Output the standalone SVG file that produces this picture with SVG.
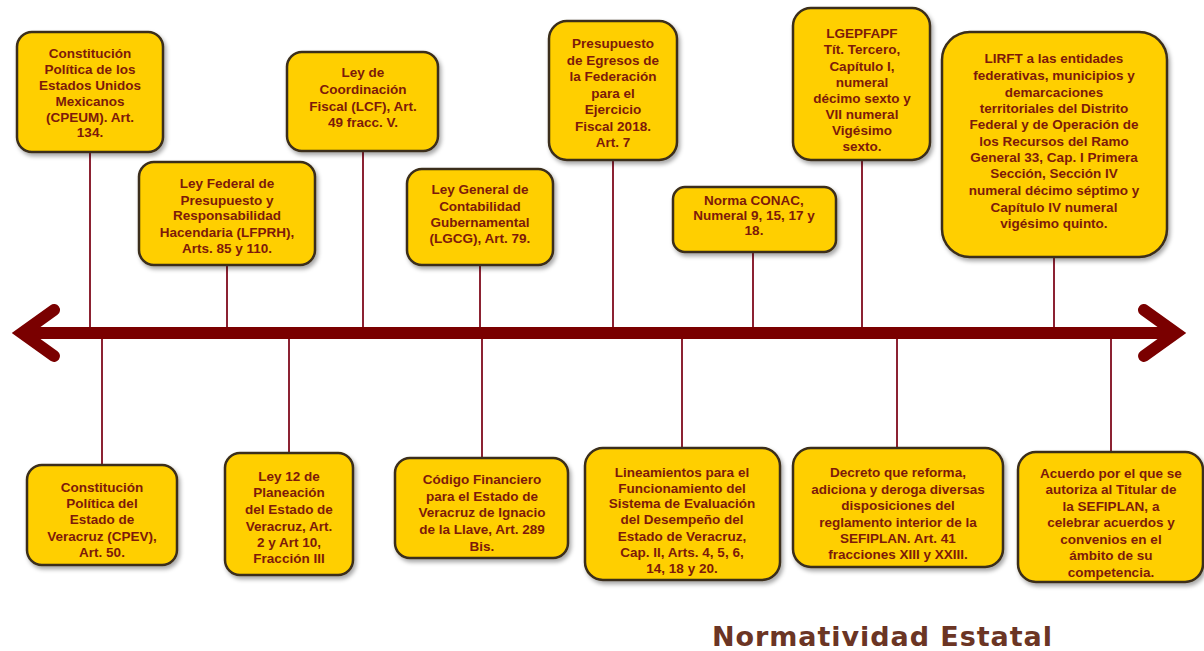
<svg xmlns="http://www.w3.org/2000/svg" width="1204" height="651" viewBox="0 0 1204 651">
<defs>
<filter id="sh" x="-10%" y="-10%" width="130%" height="130%">
<feDropShadow dx="2" dy="3" stdDeviation="2" flood-color="#000" flood-opacity="0.35"/>
</filter>
<style>
.box{fill:#FFCF00;stroke:#3B2E1A;stroke-width:2.5;filter:url(#sh)}
.t{font-family:"Liberation Sans",Arial,sans-serif;font-weight:bold;font-size:13.5px;fill:#7D1A0A;text-anchor:middle}
.conn{stroke:#8C2232;stroke-width:2;fill:none}
.axis{stroke:#7A0000;fill:none}
.title{font-family:"DejaVu Sans","Open Sans",sans-serif;font-weight:bold;font-size:27px;fill:#6B3524}
</style>
</defs>
<rect width="1204" height="651" fill="#fff"/>
<g id="connectors">
<line class="conn" x1="90" y1="152" x2="90" y2="333"/>
<line class="conn" x1="227" y1="265" x2="227" y2="333"/>
<line class="conn" x1="363" y1="151" x2="363" y2="333"/>
<line class="conn" x1="480" y1="265" x2="480" y2="333"/>
<line class="conn" x1="613" y1="160" x2="613" y2="333"/>
<line class="conn" x1="753" y1="252" x2="753" y2="333"/>
<line class="conn" x1="862" y1="160" x2="862" y2="333"/>
<line class="conn" x1="1054" y1="257" x2="1054" y2="333"/>
<line class="conn" x1="102" y1="333" x2="102" y2="465"/>
<line class="conn" x1="289" y1="333" x2="289" y2="453"/>
<line class="conn" x1="482" y1="333" x2="482" y2="458"/>
<line class="conn" x1="682" y1="333" x2="682" y2="448"/>
<line class="conn" x1="897" y1="333" x2="897" y2="448"/>
<line class="conn" x1="1111" y1="333" x2="1111" y2="452"/>
<path class="axis" d="M22 333 H1176" stroke-width="12"/>
<path class="axis" d="M54 310 L22 333 L54 356" stroke-width="12" stroke-linecap="round" stroke-linejoin="miter"/>
<path class="axis" d="M1144 310 L1176 333 L1144 356" stroke-width="12" stroke-linecap="round" stroke-linejoin="miter"/>
</g>
<g id="cpeum">
<rect class="box" x="17" y="32" width="146" height="120" rx="15"/>
<text class="t"><tspan x="90" y="58">Constitución</tspan><tspan x="90" y="74">Política de los</tspan><tspan x="90" y="90">Estados Unidos</tspan><tspan x="90" y="106">Mexicanos</tspan><tspan x="90" y="122">(CPEUM). Art.</tspan><tspan x="90" y="137">134.</tspan></text>
</g>
<g id="lfprh">
<rect class="box" x="139" y="162" width="176" height="103" rx="15"/>
<text class="t"><tspan x="227" y="188">Ley Federal de</tspan><tspan x="227" y="205">Presupuesto y</tspan><tspan x="227" y="220">Responsabilidad</tspan><tspan x="227" y="237">Hacendaria (LFPRH),</tspan><tspan x="227" y="253">Arts. 85 y 110.</tspan></text>
</g>
<g id="lcf">
<rect class="box" x="287" y="52" width="151" height="99" rx="15"/>
<text class="t"><tspan x="363" y="77">Ley de</tspan><tspan x="363" y="94">Coordinación</tspan><tspan x="363" y="111">Fiscal (LCF), Art.</tspan><tspan x="363" y="127">49 fracc. V.</tspan></text>
</g>
<g id="lgcg">
<rect class="box" x="407" y="169" width="146" height="96" rx="15"/>
<text class="t"><tspan x="480" y="194">Ley General de</tspan><tspan x="480" y="211">Contabilidad</tspan><tspan x="480" y="227">Gubernamental</tspan><tspan x="480" y="243">(LGCG), Art. 79.</tspan></text>
</g>
<g id="pef">
<rect class="box" x="549" y="21" width="128" height="139" rx="18"/>
<text class="t"><tspan x="613" y="48">Presupuesto</tspan><tspan x="613" y="65">de Egresos de</tspan><tspan x="613" y="81">la Federación</tspan><tspan x="613" y="98">para el</tspan><tspan x="613" y="114">Ejercicio</tspan><tspan x="613" y="131">Fiscal 2018.</tspan><tspan x="613" y="147">Art. 7</tspan></text>
</g>
<g id="conac">
<rect class="box" x="673" y="187" width="163" height="65" rx="12"/>
<text class="t"><tspan x="754" y="205">Norma CONAC,</tspan><tspan x="754" y="220">Numeral 9, 15, 17 y</tspan><tspan x="754" y="235">18.</tspan></text>
</g>
<g id="lgepfapf">
<rect class="box" x="793" y="8" width="137" height="152" rx="18"/>
<text class="t"><tspan x="862" y="38">LGEPFAPF</tspan><tspan x="862" y="54">Tít. Tercero,</tspan><tspan x="862" y="71">Capítulo I,</tspan><tspan x="862" y="87">numeral</tspan><tspan x="862" y="103">décimo sexto y</tspan><tspan x="862" y="119">VII numeral</tspan><tspan x="862" y="135">Vigésimo</tspan><tspan x="862" y="151">sexto.</tspan></text>
</g>
<g id="lirft">
<rect class="box" x="942" y="32" width="225" height="225" rx="28"/>
<text class="t"><tspan x="1054" y="63">LIRFT a las entidades</tspan><tspan x="1054" y="80">federativas, municipios y</tspan><tspan x="1054" y="97">demarcaciones</tspan><tspan x="1054" y="113">territoriales del Distrito</tspan><tspan x="1054" y="129">Federal y de Operación de</tspan><tspan x="1054" y="146">los Recursos del Ramo</tspan><tspan x="1054" y="162">General 33, Cap. I Primera</tspan><tspan x="1054" y="178">Sección, Sección IV</tspan><tspan x="1054" y="195">numeral décimo séptimo y</tspan><tspan x="1054" y="212">Capítulo IV numeral</tspan><tspan x="1054" y="228">vigésimo quinto.</tspan></text>
</g>
<g id="cpev">
<rect class="box" x="27" y="465" width="150" height="100" rx="15"/>
<text class="t"><tspan x="102" y="492">Constitución</tspan><tspan x="102" y="508">Política del</tspan><tspan x="102" y="524">Estado de</tspan><tspan x="102" y="541">Veracruz (CPEV),</tspan><tspan x="102" y="557">Art. 50.</tspan></text>
</g>
<g id="ley12">
<rect class="box" x="225" y="453" width="128" height="122" rx="15"/>
<text class="t"><tspan x="289" y="481">Ley 12 de</tspan><tspan x="289" y="497">Planeación</tspan><tspan x="289" y="514">del Estado de</tspan><tspan x="289" y="531">Veracruz, Art.</tspan><tspan x="289" y="547">2 y Art 10,</tspan><tspan x="289" y="563">Fracción III</tspan></text>
</g>
<g id="codigo">
<rect class="box" x="395" y="458" width="173" height="100" rx="15"/>
<text class="t"><tspan x="482" y="484">Código Financiero</tspan><tspan x="482" y="501">para el Estado de</tspan><tspan x="482" y="517">Veracruz de Ignacio</tspan><tspan x="482" y="534">de la Llave, Art. 289</tspan><tspan x="482" y="551">Bis.</tspan></text>
</g>
<g id="lineamientos">
<rect class="box" x="585" y="448" width="195" height="132" rx="18"/>
<text class="t"><tspan x="682" y="477">Lineamientos para el</tspan><tspan x="682" y="493">Funcionamiento del</tspan><tspan x="682" y="508">Sistema de Evaluación</tspan><tspan x="682" y="524">del Desempeño del</tspan><tspan x="682" y="541">Estado de Veracruz,</tspan><tspan x="682" y="557">Cap. II, Arts. 4, 5, 6,</tspan><tspan x="682" y="573">14, 18 y 20.</tspan></text>
</g>
<g id="decreto">
<rect class="box" x="793" y="448" width="210" height="119" rx="18"/>
<text class="t"><tspan x="898" y="477">Decreto que reforma,</tspan><tspan x="898" y="494">adiciona y deroga diversas</tspan><tspan x="898" y="510">disposiciones del</tspan><tspan x="898" y="527">reglamento interior de la</tspan><tspan x="898" y="543">SEFIPLAN. Art. 41</tspan><tspan x="898" y="559">fracciones XIII y XXIII.</tspan></text>
</g>
<g id="acuerdo">
<rect class="box" x="1018" y="452" width="185" height="130" rx="18"/>
<text class="t"><tspan x="1111" y="478">Acuerdo por el que se</tspan><tspan x="1111" y="494">autoriza al Titular de</tspan><tspan x="1111" y="511">la SEFIPLAN, a</tspan><tspan x="1111" y="527">celebrar acuerdos y</tspan><tspan x="1111" y="544">convenios en el</tspan><tspan x="1111" y="560">ámbito de su</tspan><tspan x="1111" y="577">competencia.</tspan></text>
</g>
<g id="title">
<text class="title" x="712" y="646" textLength="340" lengthAdjust="spacing">Normatividad Estatal</text>
</g>
</svg>
